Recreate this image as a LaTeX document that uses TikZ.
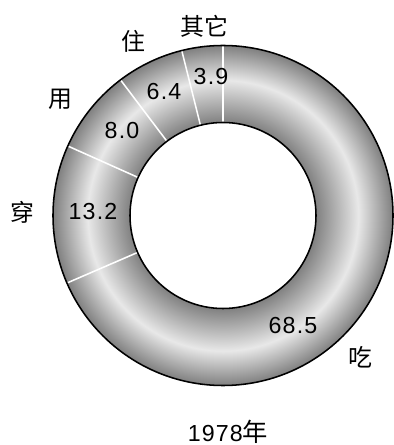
\documentclass[tikz,border=0pt]{standalone}
\usepackage{fontspec}
\setmainfont{Liberation Sans}[LetterSpace=5]
\newfontfamily\cjk{Noto Sans CJK SC}
\pgfdeclareradialshading{ringshade}{\pgfpoint{0bp}{0bp}}{color(0bp)=(white); color(13.6bp)=(black!50); color(19.9bp)=(black!9); color(25bp)=(black!50); color(50bp)=(black!50)}
\begin{document}
\begin{tikzpicture}[x=0.025cm,y=0.025cm,
    catlabel/.style={font=\fontsize{17}{20}\selectfont\cjk},
    value/.style={font=\fontsize{16.5}{20}\selectfont},
    sep/.style={white,line width=1.1pt}]
  \useasboundingbox (-223,-229.5) rectangle (170,215.5);

  \shade[shading=ringshade] (0,0) circle (170);
  \fill[white] (0,0) circle (93);
  \foreach \a in {90,104.04,127.08,155.88,203.4}
    \draw[sep] (\a:93) -- (\a:170);
  \draw[line width=1.1pt] (0,0) circle (170) (0,0) circle (93);

  \node[catlabel] (qita) at (-19,189) {其它};
  \node[catlabel] (zhu) at (-90,174.5) {住};
  \node[catlabel] (yong) at (-163,116.5) {用};
  \node[catlabel] (chuan) at (-201,3.5) {穿};
  \node[catlabel] (chi) at (137,-141.5) {吃};

  \node[value] (v39) at (-12,138.5) {3.9};
  \node[value] (v64) at (-59,123.5) {6.4};
  \node[value] (v80) at (-101,84.5) {8.0};
  \node[value] (v132) at (-130,3.5) {13.2};
  \node[value] (v685) at (70,-110.5) {68.5};

  \node[value,inner sep=1pt] (year) at (5,-216) {1978{\fontsize{18}{20}\selectfont\cjk 年}};
\end{tikzpicture}
\end{document}
